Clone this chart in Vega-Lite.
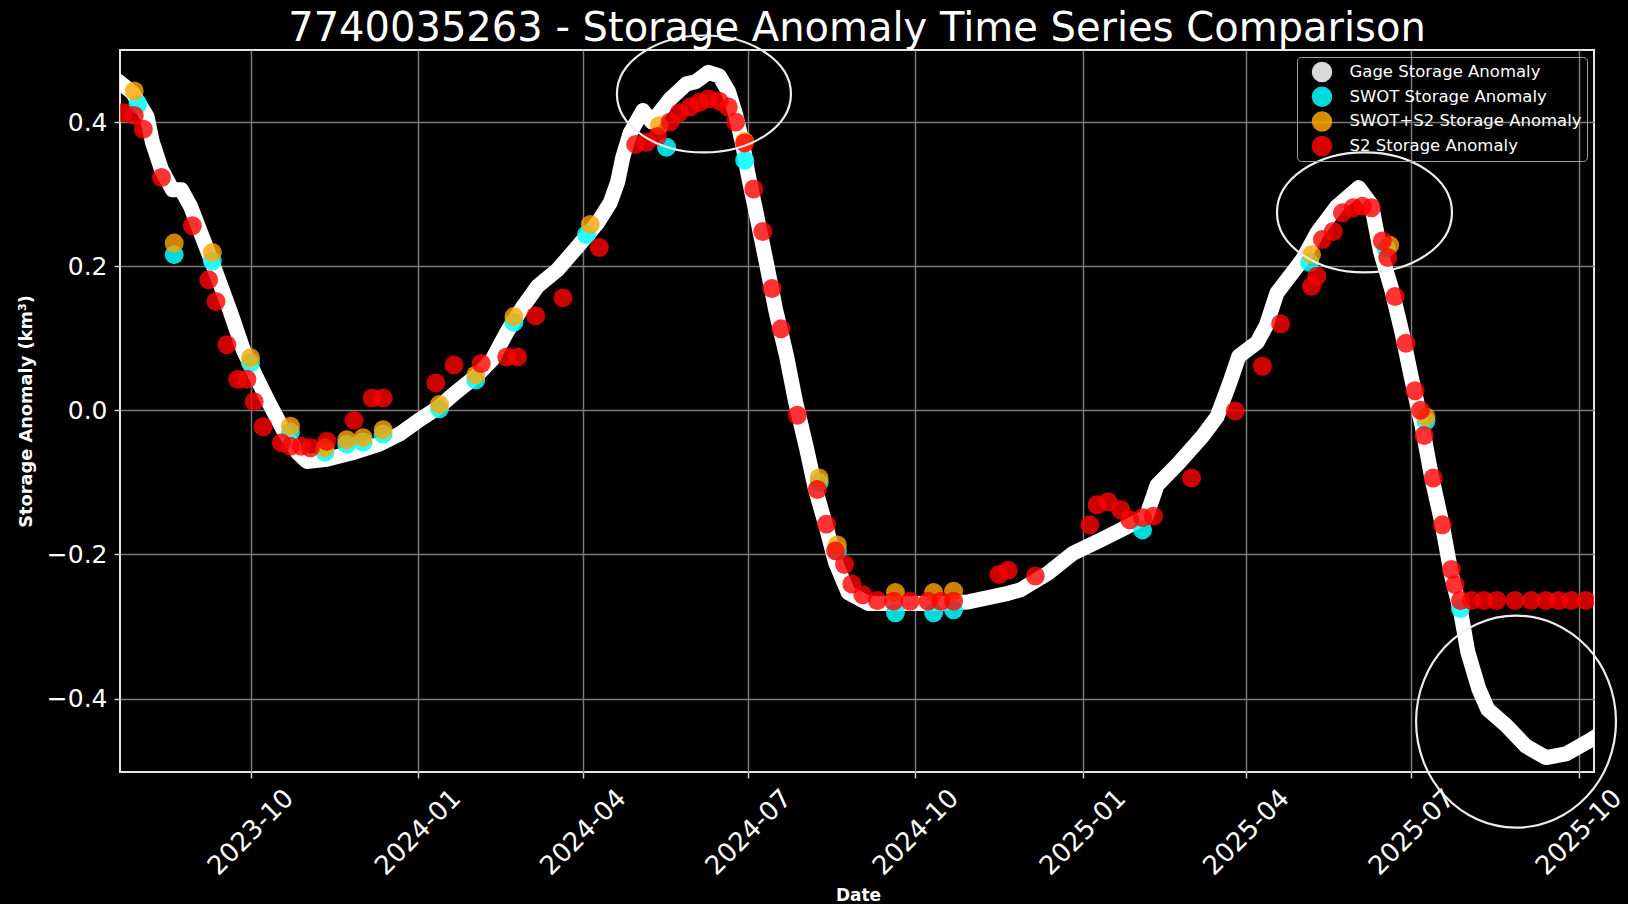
{
  "$schema": "https://vega.github.io/schema/vega-lite/v6.json",
  "background": "black",
  "autosize": "none",
  "width": 1474,
  "height": 722,
  "padding": {"left": 120, "top": 50, "right": 34, "bottom": 132},
  "title": {
    "text": "7740035263 - Storage Anomaly Time Series Comparison",
    "font": "DejaVu Sans",
    "fontSize": 40,
    "fontWeight": "normal",
    "color": "white",
    "anchor": "middle",
    "frame": "group",
    "offset": 11,
    "dy": 29
  },
  "datasets": {
    "gage": [
      {"date":"2023-07-20","value":0.457},
      {"date":"2023-07-28","value":0.441},
      {"date":"2023-08-05","value":0.408},
      {"date":"2023-08-08","value":0.372},
      {"date":"2023-08-13","value":0.334},
      {"date":"2023-08-19","value":0.306},
      {"date":"2023-08-24","value":0.306},
      {"date":"2023-08-29","value":0.283},
      {"date":"2023-09-05","value":0.237},
      {"date":"2023-09-12","value":0.191},
      {"date":"2023-09-20","value":0.136},
      {"date":"2023-09-27","value":0.084},
      {"date":"2023-10-04","value":0.047},
      {"date":"2023-10-11","value":0.011},
      {"date":"2023-10-19","value":-0.027},
      {"date":"2023-10-27","value":-0.059},
      {"date":"2023-11-01","value":-0.071},
      {"date":"2023-11-12","value":-0.068},
      {"date":"2023-11-26","value":-0.059},
      {"date":"2023-12-11","value":-0.047},
      {"date":"2023-12-22","value":-0.033},
      {"date":"2024-01-01","value":-0.015},
      {"date":"2024-01-13","value":0.005},
      {"date":"2024-01-22","value":0.025},
      {"date":"2024-02-02","value":0.047},
      {"date":"2024-02-11","value":0.070},
      {"date":"2024-02-19","value":0.108},
      {"date":"2024-02-28","value":0.144},
      {"date":"2024-03-07","value":0.172},
      {"date":"2024-03-18","value":0.195},
      {"date":"2024-03-29","value":0.227},
      {"date":"2024-04-09","value":0.260},
      {"date":"2024-04-16","value":0.288},
      {"date":"2024-04-20","value":0.316},
      {"date":"2024-04-23","value":0.352},
      {"date":"2024-04-27","value":0.385},
      {"date":"2024-05-04","value":0.416},
      {"date":"2024-05-09","value":0.400},
      {"date":"2024-05-19","value":0.432},
      {"date":"2024-05-28","value":0.453},
      {"date":"2024-06-02","value":0.456},
      {"date":"2024-06-09","value":0.469},
      {"date":"2024-06-15","value":0.464},
      {"date":"2024-06-20","value":0.443},
      {"date":"2024-06-24","value":0.411},
      {"date":"2024-06-28","value":0.368},
      {"date":"2024-07-01","value":0.326},
      {"date":"2024-07-05","value":0.278},
      {"date":"2024-07-11","value":0.204},
      {"date":"2024-07-16","value":0.140},
      {"date":"2024-07-22","value":0.076},
      {"date":"2024-07-27","value":0.012},
      {"date":"2024-08-02","value":-0.052},
      {"date":"2024-08-07","value":-0.110},
      {"date":"2024-08-13","value":-0.163},
      {"date":"2024-08-18","value":-0.211},
      {"date":"2024-08-25","value":-0.253},
      {"date":"2024-09-05","value":-0.268},
      {"date":"2024-09-23","value":-0.268},
      {"date":"2024-10-15","value":-0.268},
      {"date":"2024-10-30","value":-0.266},
      {"date":"2024-11-21","value":-0.254},
      {"date":"2024-11-28","value":-0.249},
      {"date":"2024-12-13","value":-0.226},
      {"date":"2024-12-27","value":-0.198},
      {"date":"2025-01-11","value":-0.180},
      {"date":"2025-01-26","value":-0.161},
      {"date":"2025-02-05","value":-0.148},
      {"date":"2025-02-11","value":-0.104},
      {"date":"2025-02-23","value":-0.073},
      {"date":"2025-03-08","value":-0.036},
      {"date":"2025-03-16","value":-0.009},
      {"date":"2025-03-23","value":0.038},
      {"date":"2025-03-28","value":0.075},
      {"date":"2025-04-07","value":0.094},
      {"date":"2025-04-12","value":0.117},
      {"date":"2025-04-18","value":0.163},
      {"date":"2025-04-25","value":0.186},
      {"date":"2025-05-02","value":0.209},
      {"date":"2025-05-10","value":0.246},
      {"date":"2025-05-21","value":0.283},
      {"date":"2025-06-02","value":0.309},
      {"date":"2025-06-09","value":0.285},
      {"date":"2025-06-14","value":0.220},
      {"date":"2025-06-20","value":0.169},
      {"date":"2025-06-26","value":0.106},
      {"date":"2025-07-01","value":0.045},
      {"date":"2025-07-07","value":-0.023},
      {"date":"2025-07-12","value":-0.091},
      {"date":"2025-07-18","value":-0.159},
      {"date":"2025-07-23","value":-0.228},
      {"date":"2025-07-28","value":-0.278},
      {"date":"2025-08-01","value":-0.335},
      {"date":"2025-08-07","value":-0.386},
      {"date":"2025-08-12","value":-0.415},
      {"date":"2025-08-22","value":-0.437},
      {"date":"2025-09-02","value":-0.466},
      {"date":"2025-09-13","value":-0.482},
      {"date":"2025-09-24","value":-0.477},
      {"date":"2025-10-08","value":-0.457},
      {"date":"2025-10-11","value":-0.452}
    ],
    "swot": [
      {"date":"2023-07-31","value":0.425},
      {"date":"2023-08-20","value":0.216},
      {"date":"2023-09-10","value":0.207},
      {"date":"2023-10-01","value":0.066},
      {"date":"2023-10-23","value":-0.030},
      {"date":"2023-11-11","value":-0.058},
      {"date":"2023-11-23","value":-0.047},
      {"date":"2023-12-02","value":-0.044},
      {"date":"2023-12-13","value":-0.033},
      {"date":"2024-01-13","value":0.002},
      {"date":"2024-02-02","value":0.042},
      {"date":"2024-02-23","value":0.122},
      {"date":"2024-04-03","value":0.244},
      {"date":"2024-05-17","value":0.365},
      {"date":"2024-06-29","value":0.347},
      {"date":"2024-08-09","value":-0.100},
      {"date":"2024-08-19","value":-0.195},
      {"date":"2024-09-20","value":-0.281},
      {"date":"2024-10-11","value":-0.281},
      {"date":"2024-10-22","value":-0.277},
      {"date":"2025-02-03","value":-0.166},
      {"date":"2025-05-06","value":0.205},
      {"date":"2025-06-17","value":0.225},
      {"date":"2025-07-09","value":-0.015},
      {"date":"2025-07-28","value":-0.275}
    ],
    "swotS2": [
      {"date":"2023-07-29","value":0.443},
      {"date":"2023-08-20","value":0.232},
      {"date":"2023-09-10","value":0.219},
      {"date":"2023-10-01","value":0.073},
      {"date":"2023-10-23","value":-0.022},
      {"date":"2023-11-11","value":-0.052},
      {"date":"2023-11-23","value":-0.041},
      {"date":"2023-12-02","value":-0.038},
      {"date":"2023-12-13","value":-0.027},
      {"date":"2024-01-13","value":0.008},
      {"date":"2024-02-02","value":0.049},
      {"date":"2024-02-23","value":0.130},
      {"date":"2024-04-05","value":0.258},
      {"date":"2024-05-13","value":0.395},
      {"date":"2024-06-29","value":0.373},
      {"date":"2024-08-09","value":-0.094},
      {"date":"2024-08-19","value":-0.187},
      {"date":"2024-09-20","value":-0.253},
      {"date":"2024-10-11","value":-0.253},
      {"date":"2024-10-22","value":-0.251},
      {"date":"2025-05-07","value":0.216},
      {"date":"2025-06-19","value":0.229},
      {"date":"2025-07-09","value":-0.009}
    ],
    "s2": [
      {"date":"2023-07-23","value":0.413},
      {"date":"2023-07-29","value":0.409},
      {"date":"2023-08-03","value":0.390},
      {"date":"2023-08-13","value":0.323},
      {"date":"2023-08-30","value":0.256},
      {"date":"2023-09-08","value":0.181},
      {"date":"2023-09-12","value":0.151},
      {"date":"2023-09-18","value":0.091},
      {"date":"2023-09-24","value":0.043},
      {"date":"2023-09-29","value":0.043},
      {"date":"2023-10-03","value":0.012},
      {"date":"2023-10-08","value":-0.023},
      {"date":"2023-10-18","value":-0.045},
      {"date":"2023-10-23","value":-0.050},
      {"date":"2023-10-29","value":-0.050},
      {"date":"2023-11-03","value":-0.052},
      {"date":"2023-11-12","value":-0.043},
      {"date":"2023-11-27","value":-0.014},
      {"date":"2023-12-07","value":0.017},
      {"date":"2023-12-13","value":0.017},
      {"date":"2024-01-11","value":0.038},
      {"date":"2024-01-21","value":0.063},
      {"date":"2024-02-05","value":0.065},
      {"date":"2024-02-19","value":0.074},
      {"date":"2024-02-25","value":0.074},
      {"date":"2024-03-06","value":0.131},
      {"date":"2024-03-21","value":0.156},
      {"date":"2024-04-10","value":0.226},
      {"date":"2024-04-30","value":0.369},
      {"date":"2024-05-06","value":0.372},
      {"date":"2024-05-12","value":0.380},
      {"date":"2024-05-19","value":0.400},
      {"date":"2024-05-24","value":0.413},
      {"date":"2024-05-30","value":0.421},
      {"date":"2024-06-04","value":0.427},
      {"date":"2024-06-09","value":0.432},
      {"date":"2024-06-15","value":0.429},
      {"date":"2024-06-20","value":0.421},
      {"date":"2024-06-24","value":0.400},
      {"date":"2024-06-29","value":0.371},
      {"date":"2024-07-04","value":0.307},
      {"date":"2024-07-09","value":0.248},
      {"date":"2024-07-14","value":0.169},
      {"date":"2024-07-19","value":0.113},
      {"date":"2024-07-28","value":-0.007},
      {"date":"2024-08-08","value":-0.110},
      {"date":"2024-08-13","value":-0.158},
      {"date":"2024-08-18","value":-0.195},
      {"date":"2024-08-23","value":-0.214},
      {"date":"2024-08-27","value":-0.241},
      {"date":"2024-09-02","value":-0.256},
      {"date":"2024-09-10","value":-0.264},
      {"date":"2024-09-19","value":-0.265},
      {"date":"2024-09-28","value":-0.265},
      {"date":"2024-10-08","value":-0.265},
      {"date":"2024-10-15","value":-0.265},
      {"date":"2024-10-22","value":-0.265},
      {"date":"2024-11-16","value":-0.228},
      {"date":"2024-11-21","value":-0.222},
      {"date":"2024-12-06","value":-0.230},
      {"date":"2025-01-05","value":-0.159},
      {"date":"2025-01-09","value":-0.131},
      {"date":"2025-01-15","value":-0.127},
      {"date":"2025-01-22","value":-0.138},
      {"date":"2025-01-27","value":-0.152},
      {"date":"2025-02-03","value":-0.149},
      {"date":"2025-02-09","value":-0.147},
      {"date":"2025-03-02","value":-0.094},
      {"date":"2025-03-26","value":-0.001},
      {"date":"2025-04-10","value":0.061},
      {"date":"2025-04-20","value":0.120},
      {"date":"2025-05-07","value":0.172},
      {"date":"2025-05-10","value":0.186},
      {"date":"2025-05-13","value":0.237},
      {"date":"2025-05-19","value":0.248},
      {"date":"2025-05-24","value":0.274},
      {"date":"2025-05-30","value":0.281},
      {"date":"2025-06-04","value":0.283},
      {"date":"2025-06-09","value":0.281},
      {"date":"2025-06-15","value":0.235},
      {"date":"2025-06-18","value":0.212},
      {"date":"2025-06-22","value":0.158},
      {"date":"2025-06-28","value":0.093},
      {"date":"2025-07-03","value":0.027},
      {"date":"2025-07-06","value":0.000},
      {"date":"2025-07-08","value":-0.035},
      {"date":"2025-07-13","value":-0.094},
      {"date":"2025-07-18","value":-0.159},
      {"date":"2025-07-23","value":-0.221},
      {"date":"2025-07-25","value":-0.242},
      {"date":"2025-07-28","value":-0.264},
      {"date":"2025-08-03","value":-0.264},
      {"date":"2025-08-10","value":-0.264},
      {"date":"2025-08-17","value":-0.264},
      {"date":"2025-08-27","value":-0.264},
      {"date":"2025-09-05","value":-0.264},
      {"date":"2025-09-13","value":-0.264},
      {"date":"2025-09-20","value":-0.264},
      {"date":"2025-09-27","value":-0.264},
      {"date":"2025-10-05","value":-0.264}
    ],
    "notes": [
      {"date":"2024-06-06T14:00:00Z","value":0.439,"note":"A"},
      {"date":"2025-06-05T04:00:00Z","value":0.2746,"note":"B"},
      {"date":"2025-08-27T14:00:00Z","value":-0.432,"note":"C"}
    ]
  },
  "encoding": {
    "x": {
      "field": "date",
      "type": "temporal",
      "scale": {
        "type": "utc",
        "domain": [
          {"year": 2023, "month": 7, "date": 21, "hours": 4, "utc": true},
          {"year": 2025, "month": 10, "date": 9, "hours": 12, "utc": true}
        ]
      },
      "axis": {
        "title": "Date",
        "values": [
          {"year": 2023, "month": 10, "date": 1, "utc": true},
          {"year": 2024, "month": 1, "date": 1, "utc": true},
          {"year": 2024, "month": 4, "date": 1, "utc": true},
          {"year": 2024, "month": 7, "date": 1, "utc": true},
          {"year": 2024, "month": 10, "date": 1, "utc": true},
          {"year": 2025, "month": 1, "date": 1, "utc": true},
          {"year": 2025, "month": 4, "date": 1, "utc": true},
          {"year": 2025, "month": 7, "date": 1, "utc": true},
          {"year": 2025, "month": 10, "date": 1, "utc": true}
        ],
        "format": "%Y-%m",
        "labelAngle": -45,
        "labelAlign": "center",
        "labelBaseline": "middle",
        "labelPadding": 54,
        "labelFontSize": 26,
        "labelFlush": false,
        "labelOverlap": false,
        "titleX": 738,
        "titleY": 128,
        "titleBaseline": "alphabetic"
      }
    },
    "y": {
      "field": "value",
      "type": "quantitative",
      "scale": {"domain": [-0.502, 0.5], "nice": false, "zero": false},
      "axis": {
        "title": "Storage Anomaly (km³)",
        "values": [-0.4, -0.2, 0, 0.2, 0.4],
        "format": ".1f",
        "labelPadding": 7,
        "labelFontSize": 25,
        "titleFontSize": 17.8,
        "titleAngle": -90,
        "titleX": -94,
        "titleY": 361,
        "titleBaseline": "middle",
        "titleAlign": "center"
      }
    }
  },
  "layer": [
    {
      "data": {"name": "gage"},
      "mark": {"type": "line", "color": "white", "strokeWidth": 15, "strokeCap": "round", "strokeJoin": "round", "clip": true}
    },
    {
      "data": {"name": "swot"},
      "mark": {"type": "point", "filled": true, "size": 360, "opacity": 0.85, "strokeWidth": 0, "clip": true},
      "encoding": {
        "color": {
          "datum": "SWOT Storage Anomaly",
          "scale": {
            "domain": ["Gage Storage Anomaly", "SWOT Storage Anomaly", "SWOT+S2 Storage Anomaly", "S2 Storage Anomaly"],
            "range": ["#ffffff", "#00ffff", "#ffa500", "#ff0000"]
          },
          "legend": {
            "title": null,
            "orient": "top-right",
            "offset": 7,
            "padding": 4.5,
            "strokeColor": "#a0a0a0",
            "cornerRadius": 4,
            "labelColor": "white",
            "labelFont": "DejaVu Sans",
            "labelFontSize": 16.5,
            "labelLimit": 400,
            "symbolType": "circle",
            "symbolSize": 420,
            "symbolStrokeWidth": 0,
            "symbolOffset": 10,
            "labelOffset": 17,
            "rowPadding": 3.7,
            "encode": {
              "legend": {
                "update": {"strokeWidth": {"value": 1.5}}
              },
              "symbols": {
                "update": {
                  "size": {"signal": "datum.value === 'Gage Storage Anomaly' ? 220 : 420"},
                  "opacity": {"signal": "datum.value === 'Gage Storage Anomaly' ? 1 : 0.85"}
                }
              },
              "labels": {
                "update": {
                  "fill": {"signal": "datum.value === 'S2 Storage Anomaly' ? '#a0a0a0' : '#ffffff'"}
                }
              }
            }
          }
        }
      }
    },
    {
      "data": {"name": "swotS2"},
      "mark": {"type": "point", "filled": true, "size": 360, "opacity": 0.8, "strokeWidth": 0, "clip": true},
      "encoding": {"color": {"datum": "SWOT+S2 Storage Anomaly"}}
    },
    {
      "data": {"name": "s2"},
      "mark": {"type": "point", "filled": true, "size": 360, "opacity": 0.8, "strokeWidth": 0, "clip": true},
      "encoding": {"color": {"datum": "S2 Storage Anomaly"}}
    },
    {
      "data": {"name": "notes"},
      "transform": [{"filter": "datum.note === 'A'"}],
      "mark": {"type": "point", "filled": false, "stroke": "#eeeeee", "strokeWidth": 2.2, "opacity": 1, "size": 30276,
        "shape": "M -1 0 C -1 -0.371 -0.552 -0.672 0 -0.672 C 0.552 -0.672 1 -0.371 1 0 C 1 0.371 0.552 0.672 0 0.672 C -0.552 0.672 -1 0.371 -1 0 Z"}
    },
    {
      "data": {"name": "notes"},
      "transform": [{"filter": "datum.note === 'B'"}],
      "mark": {"type": "point", "filled": false, "stroke": "#eeeeee", "strokeWidth": 2.2, "opacity": 1, "size": 30625,
        "shape": "M -1 0 C -1 -0.379 -0.552 -0.686 0 -0.686 C 0.552 -0.686 1 -0.379 1 0 C 1 0.379 0.552 0.686 0 0.686 C -0.552 0.686 -1 0.379 -1 0 Z"}
    },
    {
      "data": {"name": "notes"},
      "transform": [{"filter": "datum.note === 'C'"}],
      "mark": {"type": "point", "filled": false, "stroke": "#eeeeee", "strokeWidth": 2.2, "opacity": 1, "size": 44944,
        "shape": "M -0.943 0 C -0.943 -0.552 -0.521 -1 0 -1 C 0.521 -1 0.943 -0.552 0.943 0 C 0.943 0.552 0.521 1 0 1 C -0.521 1 -0.943 0.552 -0.943 0 Z"}
    }
  ],
  "config": {
    "view": {"stroke": "#e6e6e6", "strokeWidth": 2},
    "axis": {
      "domain": false,
      "grid": true,
      "gridColor": "#7a7a7a",
      "gridWidth": 1.5,
      "tickColor": "#cccccc",
      "tickSize": 6,
      "tickWidth": 1.5,
      "labelColor": "white",
      "labelFont": "DejaVu Sans",
      "labelFontSize": 24,
      "titleColor": "white",
      "titleFont": "DejaVu Sans",
      "titleFontWeight": "bold",
      "titleFontSize": 17
    }
  }
}
